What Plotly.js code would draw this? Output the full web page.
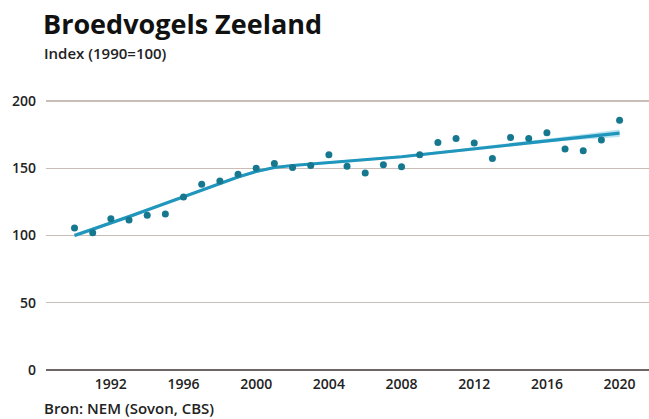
<!DOCTYPE html>
<html>
<head>
<meta charset="utf-8">
<script src="https://cdn.plot.ly/plotly-3.0.1.min.js"></script>
<style>
html,body{margin:0;padding:0;background:#fff;}
#chart{width:649px;height:419px;}
</style>
</head>
<body>
<div id="chart"></div>
<script>
const years = [1990,1991,1992,1993,1994,1995,1996,1997,1998,1999,2000,2001,2002,2003,2004,2005,2006,2007,2008,2009,2010,2011,2012,2013,2014,2015,2016,2017,2018,2019,2020];
const indexValues = [105.5,102,112.5,111.5,115,116,128.5,138,140.5,145.5,150,153.5,150.5,152,160,151.5,146.5,152.5,151,160,169,172,168.8,157.2,172.8,172,176.3,164.2,163,170.9,185.7];
const trend = [100,104.5,109,114,119,124,129,134,139,143.5,147.5,150.5,152,153,154,155,156,157.2,158.5,160,161.5,163,164.5,166,167.5,169,170.5,172,173.3,174.5,176];
const trendUpper = [101.5,105.8,110.2,115,120,125,130,135,140,144.5,148.5,151.5,153,154,155,156,157,158.2,159.5,161,162.5,164,165.5,167,168.6,170.2,171.9,173.6,175.2,176.8,178.8];
const trendLower = [98.5,103.2,107.8,113,118,123,128,133,138,142.5,146.5,149.5,151,152,153,154,155,156.2,157.5,159,160.5,162,163.5,165,166.4,167.8,169.1,170.4,171.4,172.2,173.2];
const xTicks = [1992,1996,2000,2004,2008,2012,2016,2020];
const yTicks = [0,50,100,150,200];

const font = '"Open Sans", "DejaVu Sans Condensed", sans-serif';

const traces = [
  {x: years, y: trendLower, type:'scatter', mode:'lines', line:{width:0, color:'rgba(0,0,0,0)'}, hoverinfo:'skip', showlegend:false},
  {x: years, y: trendUpper, type:'scatter', mode:'lines', fill:'tonexty', fillcolor:'rgba(140,210,228,0.6)', line:{width:0, color:'rgba(0,0,0,0)'}, hoverinfo:'skip', showlegend:false},
  {x: years, y: trend, type:'scatter', mode:'lines', line:{color:'#2196bd', width:3.2}, showlegend:false},
  {x: years, y: indexValues, type:'scatter', mode:'markers', marker:{color:'#16788f', size:7}, showlegend:false}
];

const layout = {
  width: 649, height: 419,
  margin: {l:46, r:0, t:81, b:49},
  paper_bgcolor:'#fff', plot_bgcolor:'#fff',
  showlegend:false,
  xaxis: {
    range:[1988.43, 2021.62],
    tickvals: xTicks,
    ticktext: xTicks.map(String),
    showgrid:false, zeroline:false, showline:false,
    ticks:'', tickfont:{family:font, size:14, color:'#222', weight:600},
    ticklabelstandoff: 4
  },
  yaxis: {
    range:[0, 214.8],
    tickvals: yTicks,
    ticktext: yTicks.map(String),
    showgrid:true, gridcolor:'#c9bdb8', gridwidth:1.3,
    zeroline:true, zerolinecolor:'#6e6663', zerolinewidth:1.4,
    showline:false, ticks:'',
    tickfont:{family:font, size:14, color:'#222', weight:600},
    ticklabelstandoff: 9
  },
  annotations: [
    {text:'<b>Broedvogels Zeeland</b>', xref:'paper', yref:'paper', xanchor:'left', yanchor:'top', showarrow:false,
     font:{family:font, size:27, color:'#111'}},
    {text:'Index (1990=100)', xref:'paper', yref:'paper', xanchor:'left', yanchor:'top', showarrow:false,
     font:{family:font, size:15, color:'#222', weight:600}},
    {text:'Bron: NEM (Sovon, CBS)', xref:'paper', yref:'paper', xanchor:'left', yanchor:'top', showarrow:false,
     font:{family:font, size:15, color:'#222', weight:600}}
  ]
};
// position annotations in pixels relative to paper
const plotH = 419 - 81 - 49;
function py(pix){ return (419 - 49 - pix) / plotH; }
function px(pix){ return (pix - 46) / (649 - 46); }
layout.annotations[0].x = px(41); layout.annotations[0].y = py(3);
layout.annotations[1].x = px(42); layout.annotations[1].y = py(41);
layout.annotations[2].x = px(42); layout.annotations[2].y = py(396);

Plotly.newPlot('chart', traces, layout, {displayModeBar:false, staticPlot:true});
</script>
</body>
</html>
